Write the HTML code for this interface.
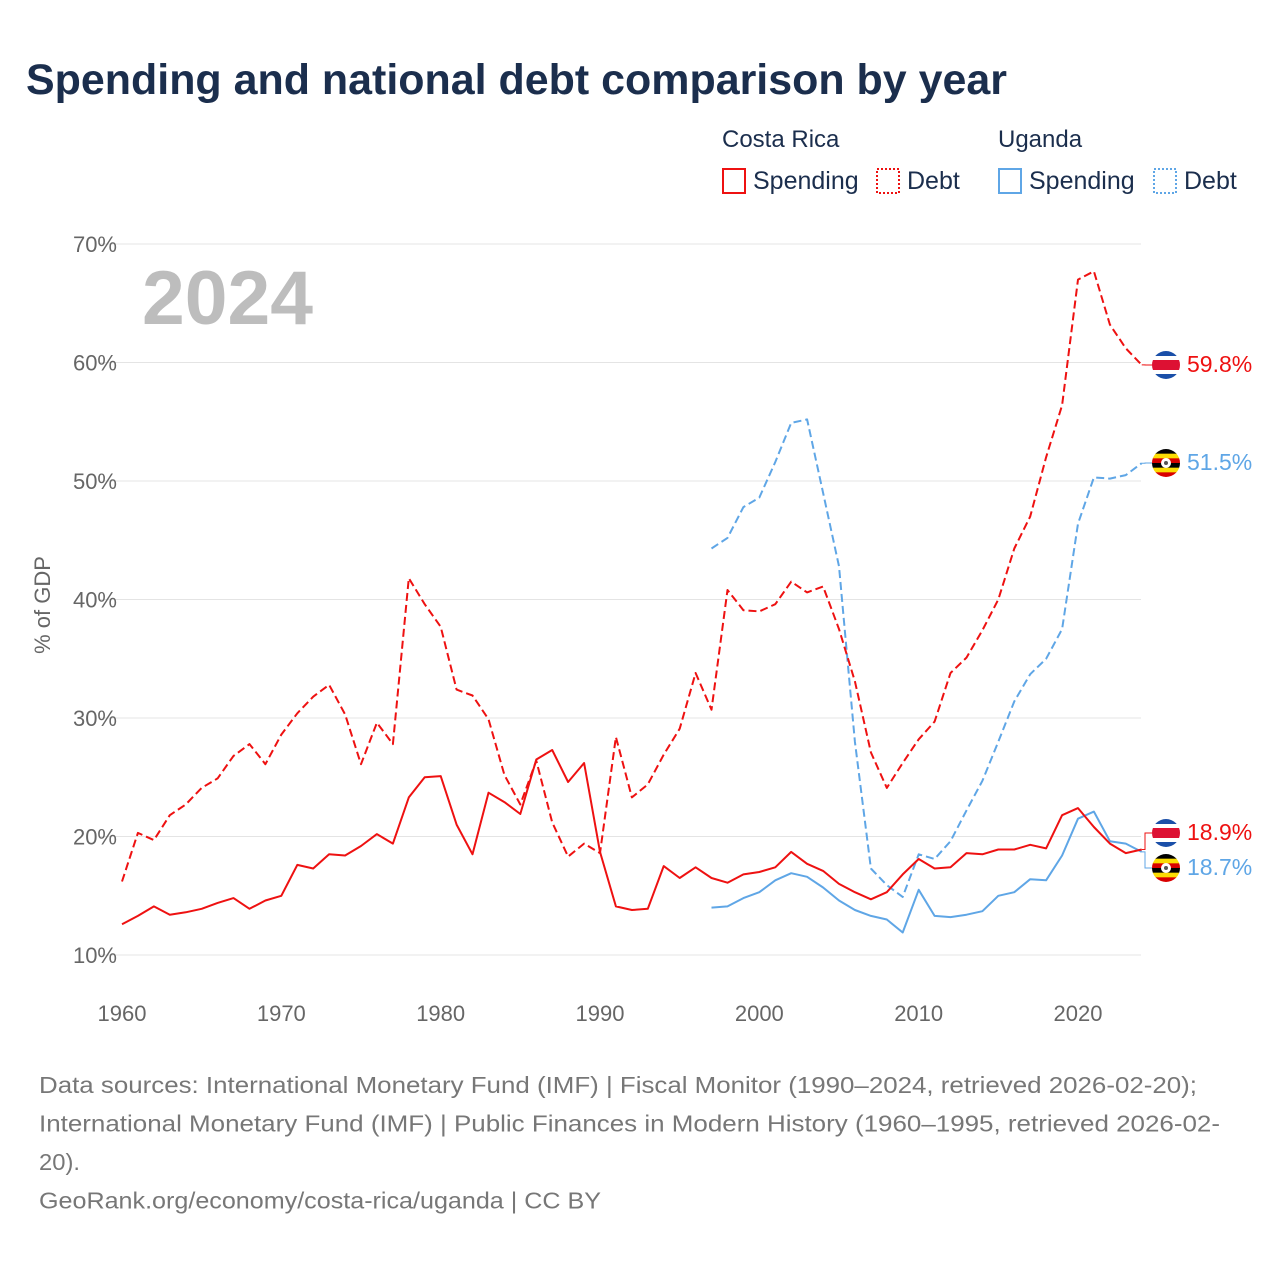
<!DOCTYPE html>
<html><head><meta charset="utf-8">
<style>
body{margin:0;background:#fff;font-family:"Liberation Sans",sans-serif;}
#wrap{position:relative;width:1280px;height:1280px;overflow:hidden;}
</style></head>
<body>
<div id="wrap">
<svg id="chart" width="1280" height="1280"></svg>
</div>
<script>
const years=[];for(let y=1960;y<=2024;y++)years.push(y);
const ugYears=[];for(let y=1997;y<=2024;y++)ugYears.push(y);
const crSpending=[12.6,13.3,14.1,13.4,13.6,13.9,14.4,14.8,13.9,14.6,15.0,17.6,17.3,18.5,18.4,19.2,20.2,19.4,23.3,25.0,25.1,21.0,18.5,23.7,22.9,21.9,26.5,27.3,24.6,26.2,18.7,14.1,13.8,13.9,17.5,16.5,17.4,16.5,16.1,16.8,17.0,17.4,18.7,17.7,17.1,16.0,15.3,14.7,15.3,16.8,18.1,17.3,17.4,18.6,18.5,18.9,18.9,19.3,19.0,21.8,22.4,20.8,19.4,18.6,18.9];
const crDebt=[16.2,20.3,19.7,21.8,22.7,24.1,24.9,26.8,27.8,26.1,28.6,30.4,31.8,32.8,30.3,26.1,29.6,27.8,41.8,39.6,37.7,32.4,31.9,29.9,25.2,22.7,26.4,21.2,18.3,19.4,18.6,28.4,23.3,24.4,26.9,29.1,33.8,30.7,40.8,39.1,39.0,39.6,41.5,40.6,41.1,37.5,33.1,27.1,24.1,26.2,28.2,29.7,33.8,35.1,37.4,40.0,44.3,47.0,52.0,56.4,67.0,67.7,63.2,61.2,59.8];
const ugSpending=[14.0,14.1,14.8,15.3,16.3,16.9,16.6,15.7,14.6,13.8,13.3,13.0,11.9,15.5,13.3,13.2,13.4,13.7,15.0,15.3,16.4,16.3,18.4,21.5,22.1,19.6,19.4,18.7];
const ugDebt=[44.3,45.2,47.8,48.6,51.6,54.9,55.2,49.0,42.8,28.0,17.3,15.9,14.9,18.5,18.1,19.6,22.2,24.7,28.0,31.4,33.7,35.0,37.5,46.4,50.3,50.2,50.5,51.5];
const yTicks=[10,20,30,40,50,60,70];
const xTicks=[1960,1970,1980,1990,2000,2010,2020];

const svg=document.getElementById('chart');
const NS='http://www.w3.org/2000/svg';
const X=y=>122+(y-1960)*(956/60);
const Y=v=>955-(v-10)*(711/60);
function mk(tag,attrs,parent){const e=document.createElementNS(NS,tag);for(const k in attrs)e.setAttribute(k,attrs[k]);(parent||svg).appendChild(e);return e;}
function txt(s,attrs){const e=mk('text',attrs);e.textContent=s;return e;}

let t=txt('Spending and national debt comparison by year',{x:26,y:94,'font-size':43,'font-weight':'bold',fill:'#1b2e4d',textLength:981,lengthAdjust:'spacingAndGlyphs'});



const lg=[['Costa Rica',722],['Uganda',998]];
lg.forEach(l=>{const e=txt(l[0],{x:l[1],y:147,'font-size':24,fill:'#1b2e4d'});

});
const le=[[722,'#ee1111',false,'Spending'],[876,'#ee1111',true,'Debt'],[998,'#5fa6e6',false,'Spending'],[1153,'#5fa6e6',true,'Debt']];
le.forEach(l=>{const g=mk('g',{});


mk('rect',{x:l[0]+1,y:169,width:22,height:24,fill:'none',stroke:l[1],'stroke-width':2,'stroke-dasharray':l[2]?'2,2':'none'},g);
const e=mk('text',{x:l[0]+31,y:189,'font-size':25,fill:'#1b2e4d'},g);e.textContent=l[3];});

yTicks.forEach(v=>{const gl=mk('line',{x1:100,x2:1141,y1:Y(v),y2:Y(v),stroke:'#e4e4e4','stroke-width':1});


const e=txt(v+'%',{x:117,y:Y(v)+8,'font-size':22,fill:'#666','text-anchor':'end'});

});
xTicks.forEach(v=>{const e=txt(String(v),{x:X(v),y:1021,'font-size':22,fill:'#666','text-anchor':'middle'});

});
t=txt('% of GDP',{x:50,y:605,'font-size':22,fill:'#666','text-anchor':'middle',transform:'rotate(-90 50 605)'});


t=txt('2024',{x:142,y:324,'font-size':76,'font-weight':'bold',fill:'#bdbdbd',textLength:171,lengthAdjust:'spacingAndGlyphs'});



function line(xs,vs,color,dash,name){const d=xs.map((y,i)=>(i?'L':'M')+X(y).toFixed(1)+' '+Y(vs[i]).toFixed(1)).join(' ');
const p=mk('path',{d:d,fill:'none',stroke:color,'stroke-width':2,'stroke-dasharray':dash?'8,4':'none','stroke-linejoin':'round'});

}
line(ugYears,ugDebt,'#5fa6e6',true,'uganda-debt-line');
line(ugYears,ugSpending,'#5fa6e6',false,'uganda-spending-line');
line(years,crDebt,'#ee1111',true,'costa-rica-debt-line');
line(years,crSpending,'#ee1111',false,'costa-rica-spending-line');

function crFlag(cx,cy){const g=mk('g',{});


const id='c'+cy;const cp=mk('clipPath',{id:id},g);mk('circle',{cx:cx,cy:cy,r:14},cp);
const s=mk('g',{'clip-path':'url(#'+id+')'},g);
[['#1a4fa8',-14,5],['#fff',-9,4],['#dd1133',-5,10],['#fff',5,4],['#1a4fa8',9,5]].forEach(r=>mk('rect',{x:cx-14,y:cy+r[1],width:28,height:r[2],fill:r[0]},s));}
function ugFlag(cx,cy){const g=mk('g',{});


const id='u'+cy;const cp=mk('clipPath',{id:id},g);mk('circle',{cx:cx,cy:cy,r:14},cp);
const s=mk('g',{'clip-path':'url(#'+id+')'},g);
const c=['#000','#fcdc04','#d90000','#000','#fcdc04','#d90000'];
c.forEach((f,i)=>mk('rect',{x:cx-14,y:cy-14+i*28/6,width:28,height:28/6+0.5,fill:f},s));
mk('circle',{cx:cx,cy:cy,r:5,fill:'#fff'},s);mk('circle',{cx:cx,cy:cy,r:2,fill:'#555'},s);}
function endLabel(v,ly,color,name,flag){
const fy=ly+2;
mk('path',{d:`M${X(2024)} ${Y(v)} H1145 V${fy} H1152`,fill:'none',stroke:color,'stroke-width':1});
flag(1166,fy);
const e=txt(v.toFixed(1)+'%',{x:1187,y:ly+9,'font-size':23,fill:color});

}
endLabel(crDebt[crDebt.length-1],363,'#ee1111','costa-rica-debt-end-label',crFlag);
endLabel(ugDebt[ugDebt.length-1],461,'#5fa6e6','uganda-debt-end-label',ugFlag);
endLabel(crSpending[crSpending.length-1],831,'#ee1111','costa-rica-spending-end-label',crFlag);
endLabel(ugSpending[ugSpending.length-1],866,'#5fa6e6','uganda-spending-end-label',ugFlag);

const foot=['Data sources: International Monetary Fund (IMF) | Fiscal Monitor (1990–2024, retrieved 2026-02-20);','International Monetary Fund (IMF) | Public Finances in Modern History (1960–1995, retrieved 2026-02-','20).','GeoRank.org/economy/costa-rica/uganda | CC BY'];
const footLen=[1158,1181,41,562];
foot.forEach((s,i)=>{const e=txt(s,{x:39,y:1093+i*38.5,'font-size':23,fill:'#777',textLength:footLen[i],lengthAdjust:'spacingAndGlyphs'});

});
</script>
</body></html>
